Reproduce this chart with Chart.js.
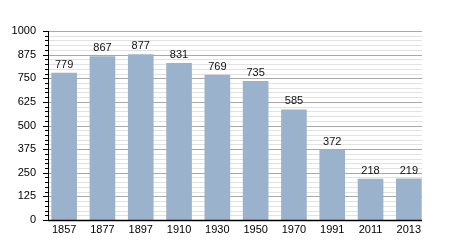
<!DOCTYPE html>
<html>
<head>
<meta charset="utf-8">
<script src="https://cdn.jsdelivr.net/npm/chart.js@4"></script>
<style>
  html, body { margin: 0; padding: 0; background: #fff; }
  #wrap { width: 450px; height: 250px; }
</style>
</head>
<body>
<div id="wrap"><canvas id="graph"></canvas></div>
<script>
// data
const years  = ['1857', '1877', '1897', '1910', '1930', '1950', '1970', '1991', '2011', '2013'];
const people = [779, 867, 877, 831, 769, 735, 585, 372, 218, 219];
const yTicks = [0, 125, 250, 375, 500, 625, 750, 875, 1000];

const FONT = 'Liberation Sans, Arial, sans-serif';

// grid + axis lines drawn from the y scale (plot lines stop a bit inside the category band)
const gridPlugin = {
    id: 'grid',
    beforeDatasetsDraw(chart) {
        const ctx = chart.ctx;
        const y = chart.scales.y;
        const left = 48, right = 422;
        ctx.save();
        ctx.lineWidth = 1;
        for (let v = 0; v <= 1000; v += 25) {
            const py = Math.round(y.getPixelForValue(v)) + 0.5;
            const major = v % 125 === 0;
            ctx.strokeStyle = major ? '#a8a8a8' : '#e2e2e2';
            ctx.beginPath();
            ctx.moveTo(left, py);
            ctx.lineTo(right, py);
            ctx.stroke();
        }
        ctx.restore();
    },
    afterDatasetsDraw(chart) {
        const ctx = chart.ctx;
        const y = chart.scales.y;
        const left = 48, right = 422;
        const top = Math.round(y.getPixelForValue(1000));
        const bottom = Math.round(y.getPixelForValue(0));
        ctx.save();
        ctx.strokeStyle = '#000';
        ctx.lineWidth = 1;
        // left axis + ticks
        ctx.beginPath();
        ctx.moveTo(left + 0.5, top);
        ctx.lineTo(left + 0.5, bottom + 1);
        for (let v = 0; v <= 1000; v += 25) {
            const py = Math.round(y.getPixelForValue(v)) + 0.5;
            const len = v % 125 === 0 ? 5 : 3;
            ctx.moveTo(left - len, py);
            ctx.lineTo(left, py);
        }
        ctx.stroke();
        // bottom axis
        ctx.lineWidth = 1.5;
        ctx.beginPath();
        ctx.moveTo(left, bottom + 0.5);
        ctx.lineTo(right, bottom + 0.5);
        ctx.stroke();

        // value labels
        ctx.fillStyle = '#111';
        ctx.font = '11px ' + FONT;
        ctx.textAlign = 'center';
        ctx.textBaseline = 'alphabetic';
        const meta = chart.getDatasetMeta(0);
        meta.data.forEach((bar, i) => {
            ctx.fillText(String(people[i]), bar.x, bar.y - 5);
        });
        ctx.restore();
    }
};

window.addEventListener('load', function () {
    const ctx = document.getElementById('graph').getContext('2d');
    new Chart(ctx, {
        type: 'bar',
        data: {
            labels: years,
            datasets: [{
                data: people,
                backgroundColor: '#9bb2cc',
                borderWidth: 0,
                barPercentage: 0.67,
                categoryPercentage: 1.0
            }]
        },
        options: {
            responsive: true,
            maintainAspectRatio: false,
            animation: false,
            layout: { padding: { top: 31, right: 22, left: 0, bottom: 0 } },
            plugins: {
                legend: { display: false },
                tooltip: { enabled: false }
            },
            scales: {
                x: {
                    grid: { display: false, drawTicks: false },
                    border: { display: false },
                    ticks: {
                        color: '#000',
                        font: { family: FONT, size: 11 },
                        padding: 3,
                        maxRotation: 0,
                        autoSkip: false
                    },
                    afterFit: function (s) { s.height = 30; }
                },
                y: {
                    min: 0,
                    max: 1000,
                    afterBuildTicks: function (s) {
                        s.ticks = yTicks.map(v => ({ value: v }));
                    },
                    grid: { display: false, drawTicks: false },
                    border: { display: false },
                    ticks: {
                        color: '#000',
                        font: { family: FONT, size: 11 },
                        padding: 9,
                        callback: function (v) { return String(v); }
                    },
                    afterFit: function (s) { s.width = 45; }
                }
            }
        },
        plugins: [gridPlugin]
    });
});
</script>
</body>
</html>
